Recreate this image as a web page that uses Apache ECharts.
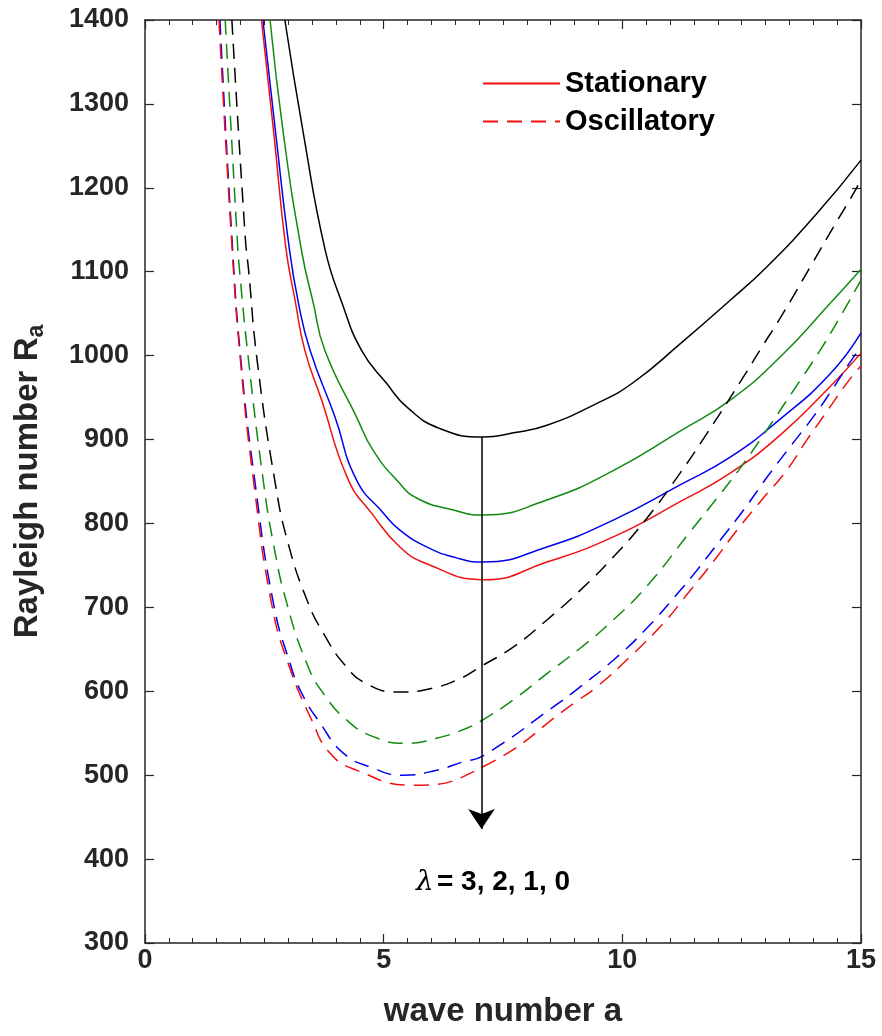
<!DOCTYPE html>
<html>
<head>
<meta charset="utf-8">
<script src="https://cdn.jsdelivr.net/npm/echarts@6/dist/echarts.min.js"></script>
<style>
  html, body { margin: 0; padding: 0; background: #fff; }
  #chart { width: 882px; height: 1036px; }
</style>
</head>
<body>
<div id="chart"></div>
<script>
// wave number a vs Rayleigh number as [a, Ra] pairs

// stationary (solid)
const stat3 = [[2.93,1400],[3.32,1264],[3.77,1127],[4.12,1064],[4.54,1006],[5.06,967],[5.5,938],[6.18,913],[7.08,903],[7.72,908],[8.42,917],[9.5,944],[10.23,968],[11.21,1014],[12.26,1066],[13.03,1106],[14.07,1169],[15,1233]]
const stat2 = [[2.62,1400],[2.9,1264],[3.28,1125],[3.52,1064],[3.77,1006],[4.43,927],[4.78,887],[5.3,850],[5.7,830],[6.46,816],[7.08,810],[8.42,828],[9.81,863],[11.21,910],[12.26,947],[13.3,998],[14.35,1062],[15,1103]]
const stat1 = [[2.47,1400],[2.74,1264],[3.02,1129],[3.21,1064],[3.46,1006],[3.98,927],[4.43,852],[5.0,812],[5.34,792],[5.9,772],[6.46,760],[7.08,754],[8.42,772],[9.81,804],[11.21,846],[12.26,879],[13.3,924],[14.35,978],[15,1027]]
const stat0 = [[2.44,1400],[2.7,1264],[2.95,1129],[3.15,1064],[3.35,1006],[3.7,947],[4.26,852],[4.75,812],[5.34,772],[5.9,752],[7.1,733],[8.42,754],[9.81,784],[11.21,826],[12.26,860],[13.3,905],[14.35,963],[15,1003]]

// oscillatory (dashed)
const osc3 = [[1.82,1400],[2.1,1141],[2.17,1102],[2.35,994],[2.72,851],[3.0,776],[3.42,705],[3.74,669],[4.16,633],[4.64,609],[5.34,599],[5.97,603],[6.6,615],[7.02,629],[7.72,653],[8.42,685],[9.11,720],[9.81,760],[10.51,806],[11.21,860],[11.77,907],[12.54,975],[12.92,1010],[13.3,1044],[14.0,1112],[14.42,1153],[14.84,1193],[15,1210]]
const osc2 = [[1.68,1400],[1.93,1141],[1.98,1102],[2.17,994],[2.48,850],[2.69,776],[2.97,705],[3.39,633],[3.73,598],[4.22,566],[4.78,546],[5.48,538],[6.11,544],[6.74,556],[7.08,566],[7.72,590],[8.42,621],[9.11,651],[9.81,685],[10.51,725],[11.42,790],[11.98,830],[12.47,866],[12.89,900],[13.72,970],[14.14,1006],[14.56,1046],[15,1090]]
const osc1 = [[1.57,1400],[1.82,1141],[2.01,994],[2.3,851],[2.69,705],[3.04,633],[3.28,598],[3.67,562],[4.16,526],[4.71,510],[5.41,500],[6.11,506],[6.67,516],[7.08,523],[8.62,584],[9.11,605],[9.81,637],[10.51,675],[11.21,720],[11.49,739],[12.05,780],[12.54,816],[13.03,855],[13.51,891],[14.0,927],[14.39,959],[14.84,998],[15,1010]]
const osc0 = [[1.55,1400],[1.81,1141],[2.0,994],[2.28,848],[2.65,705],[3.0,633],[3.49,566],[3.88,526],[4.43,506],[5.6,488],[7.08,510],[9.04,588],[9.46,605],[10.16,641],[10.86,681],[11.35,715],[11.98,760],[12.4,792],[12.95,830],[13.44,863],[13.86,899],[14.28,933],[14.7,967],[15,988]]

const arrowFrom = [7.05, 903]
const arrowTo = [7.05, 436]
const noteAt = [7.29, 372]
const noteText = '= 3, 2, 1, 0'

const RED = '#f01010', BLUE = '#0000f0', GREEN = '#108a10', BLACK = '#000000'
const AXIS = '#262626'
const FONT = 'Liberation Sans'

function solid(name, data, color) {
  return {
    name: name, type: 'line', data: data, symbol: 'none', smooth: 0.5,
    lineStyle: { color: color, width: 1.5 }, itemStyle: { color: color }
  }
}
function dashed(name, data, color) {
  return {
    name: name, type: 'line', data: data, symbol: 'none', smooth: 0.5,
    lineStyle: { color: color, width: 1.5, type: [15, 9] }, itemStyle: { color: color }
  }
}

const xBase = {
  type: 'value', min: 0, max: 15, interval: 5,
  axisLine: { onZero: false, lineStyle: { color: AXIS, width: 1.5 } },
  axisTick: { inside: true, length: 9, lineStyle: { color: AXIS, width: 1.2 } },
  minorTick: { show: true, splitNumber: 10, length: 5, lineStyle: { color: AXIS, width: 1 } },
  splitLine: { show: false }
}
const yBase = {
  type: 'value', min: 300, max: 1400, interval: 100,
  axisLine: { onZero: false, lineStyle: { color: AXIS, width: 1.5 } },
  axisTick: { inside: true, length: 9, lineStyle: { color: AXIS, width: 1.2 } },
  splitLine: { show: false }
}
const tickLabel = { color: AXIS, fontFamily: FONT, fontWeight: 'bold', fontSize: 27, formatter: v => String(v) }

const black = solid('s3', stat3, BLACK)
black.markLine = {
  silent: true, animation: false,
  symbol: ['none', 'arrow'], symbolSize: 20,
  label: { show: false },
  lineStyle: { color: BLACK, width: 1.5, type: 'solid' },
  data: [[{ coord: arrowFrom }, { coord: arrowTo }]]
}

const chart = echarts.init(document.getElementById('chart'))
chart.setOption({
  animation: false,
  backgroundColor: '#fff',
  grid: { left: 145, right: 21, top: 20, bottom: 93 },
  legend: {
    data: ['Stationary', 'Oscillatory'],
    orient: 'vertical', left: 482, top: 69, padding: 0,
    itemWidth: 77, itemHeight: 14, itemGap: 9,
    itemStyle: { opacity: 0 },
    textStyle: { color: '#000', fontFamily: FONT, fontWeight: 'bold', fontSize: 29, lineHeight: 29 }
  },
  xAxis: [
    Object.assign({}, xBase, {
      position: 'bottom',
      axisLabel: Object.assign({}, tickLabel, { margin: 4 }),
      name: 'wave number a', nameLocation: 'middle', nameGap: 52,
      nameTextStyle: { color: AXIS, fontFamily: FONT, fontWeight: 'bold', fontSize: 33 }
    }),
    Object.assign({}, xBase, { position: 'top', axisLabel: { show: false } })
  ],
  yAxis: [
    Object.assign({}, yBase, {
      position: 'left',
      axisLabel: Object.assign({}, tickLabel, { margin: 16 }),
      name: '{n|Rayleigh number R}{s|a}', nameLocation: 'middle', nameGap: 97,
      nameTextStyle: {
        color: AXIS, fontFamily: FONT, fontWeight: 'bold', fontSize: 33,
        rich: {
          n: { color: AXIS, fontFamily: FONT, fontWeight: 'bold', fontSize: 33 },
          s: { color: AXIS, fontFamily: FONT, fontWeight: 'bold', fontSize: 23, padding: [18, 0, 0, 0] }
        }
      }
    }),
    Object.assign({}, yBase, { position: 'right', axisLabel: { show: false } })
  ],
  series: [
    black,
    solid('s2', stat2, GREEN),
    solid('s1', stat1, BLUE),
    solid('Stationary', stat0, RED),
    dashed('o3', osc3, BLACK),
    dashed('o2', osc2, GREEN),
    dashed('o1', osc1, BLUE),
    dashed('Oscillatory', osc0, RED)
  ]
})

const p = chart.convertToPixel({ gridIndex: 0 }, noteAt)
chart.setOption({
  graphic: [{
    type: 'text', x: p[0], y: p[1],
    style: {
      text: '{l|λ} {t|' + noteText + '}',
      align: 'center', verticalAlign: 'middle',
      rich: {
        l: { fontFamily: 'DejaVu Serif', fontStyle: 'italic', fontSize: 28, fill: '#000' },
        t: { fontFamily: FONT, fontWeight: 'bold', fontSize: 28, fill: '#000' }
      }
    }
  }]
})
</script>
</body>
</html>
